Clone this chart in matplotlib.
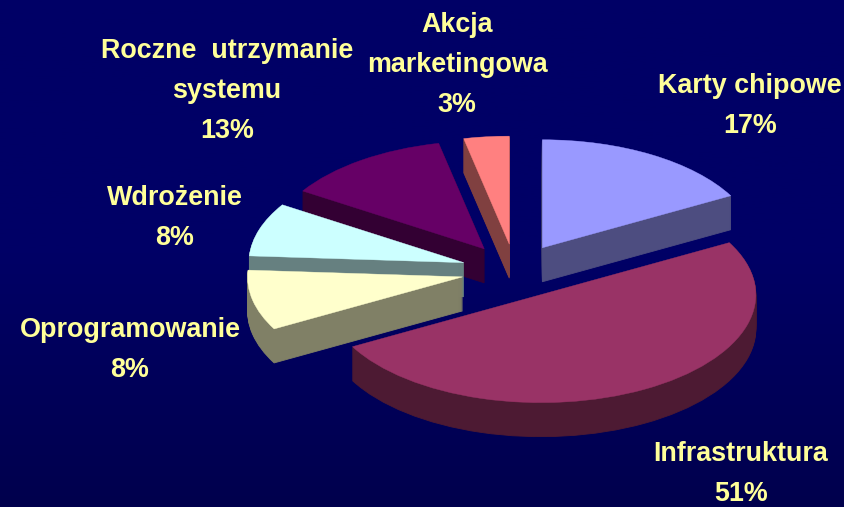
import numpy as np
import matplotlib
matplotlib.use("Agg")
import matplotlib.pyplot as plt
from matplotlib.colors import LinearSegmentedColormap

plt.rcParams['font.family'] = ['Liberation Sans', 'DejaVu Sans']

categories = ["Karty chipowe", "Infrastruktura", "Oprogramowanie", "Wdrożenie",
              "Roczne  utrzymanie\nsystemu", "Akcja\nmarketingowa"]
values = [17, 50, 9, 8, 12.6, 3.4]
percent_labels = ["17%", "51%", "8%", "8%", "13%", "3%"]
top_colors = ["#9999FF", "#993366", "#FFFFCC", "#CCFFFF", "#660066", "#FF8080"]
side_colors = ["#4D4D80", "#4D1A33", "#808066", "#668080", "#330033", "#804040"]
stack_order = [3, 6, 5, 4, 2, 1]
label_pos = [(750, 86), (741, 454), (130, 330), (175, 198), (227, 51), (457, 25)]

W, H = 845, 507
CX, CY, A, B, DEPTH, EXPLODE = 515, 271, 215, 108, 34, 0.25

fig = plt.figure(figsize=(W / 100, H / 100), dpi=100)
ax = fig.add_axes([0, 0, 1, 1])

for layer in range(DEPTH, -1, -1):
    colors = top_colors if layer == 0 else side_colors
    wedges, _ = ax.pie(values, explode=[EXPLODE] * len(values), startangle=90,
                       counterclock=False, colors=colors, radius=1,
                       center=(0, -layer / B),
                       wedgeprops=dict(linewidth=0.6 if layer else 0.3,
                                       edgecolor=None, antialiased=True))
    for w, o, c in zip(wedges, stack_order, colors):
        w.set_edgecolor(c)
        w.set_zorder(o * 10 + (DEPTH - layer) / (DEPTH + 1))

xlim = (-CX / A, (W - CX) / A)
ylim = ((CY - H) / B, CY / B)
cmap = LinearSegmentedColormap.from_list("bg", ["#000066", "#000066", "#00004D"])
ax.imshow(np.linspace(0, 1, 256).reshape(-1, 1), cmap=cmap, aspect="auto",
          extent=(*xlim, ylim[0], ylim[1]), origin="upper", zorder=-1)
ax.set_aspect("auto")
ax.set_xlim(xlim)
ax.set_ylim(ylim)
ax.axis("off")

for cat, pct, (px, py) in zip(categories, percent_labels, label_pos):
    lines = cat.split("\n") + [pct]
    for i, line in enumerate(lines):
        yy = py + i * 40
        ax.text(px / W, 1 - yy / H, line, transform=ax.transAxes, ha="center", va="center",
                color="#FFFF99", fontsize=19.4, fontweight="bold", zorder=100)

fig.savefig("out.png", dpi=100)
